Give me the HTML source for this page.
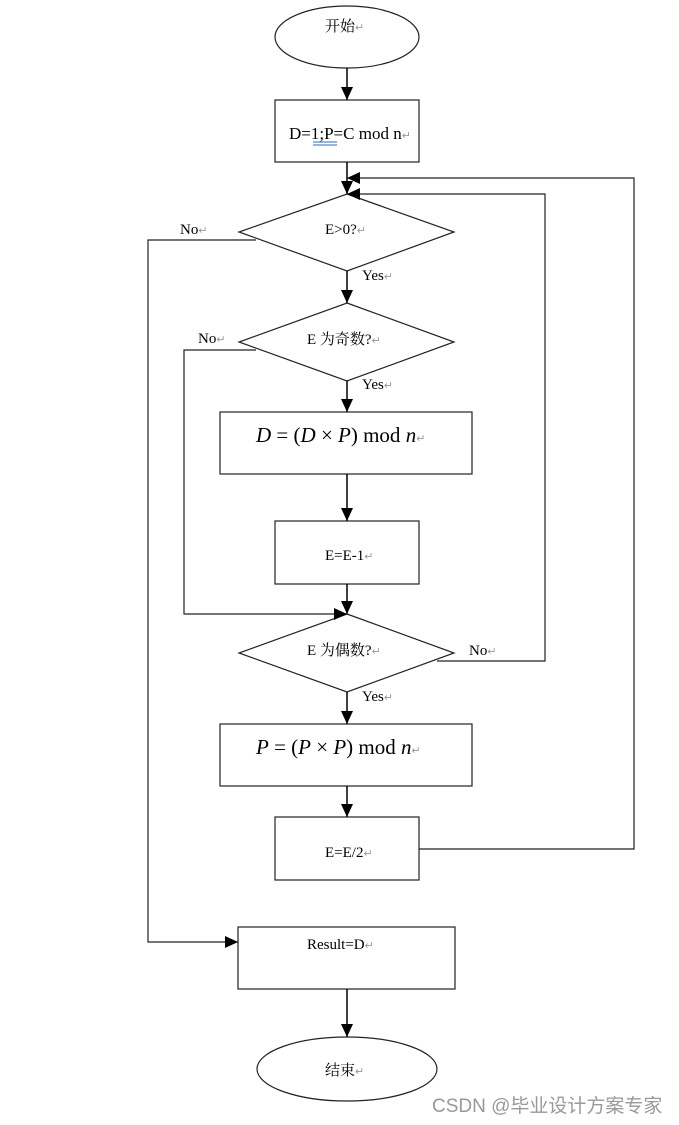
<!DOCTYPE html>
<html><head><meta charset="utf-8"><style>
body{margin:0;background:#fff;width:679px;height:1125px;overflow:hidden}
svg{display:block}
text{font-family:"Liberation Serif","Noto Serif CJK SC","Noto Sans CJK SC",serif;font-size:15px;fill:#000}
.r{fill:#999;font-size:11px}
</style></head><body>
<svg width="679" height="1125" viewBox="0 0 679 1125">
<defs>
<marker id="b" markerWidth="14" markerHeight="14" refX="13" refY="6" orient="auto" markerUnits="userSpaceOnUse"><path d="M0,0 L13,6 L0,12 z" fill="#000"/></marker></defs>
<g fill="none" stroke="#222" stroke-width="1.2">
<ellipse cx="347" cy="37" rx="72" ry="31"/>
<rect x="275" y="100" width="144" height="62"/>
<polygon points="347,194 454,232 347,271 239,232"/>
<polygon points="347,303 454,342 347,381 239,342"/>
<rect x="220" y="412" width="252" height="62"/>
<rect x="275" y="521" width="144" height="63"/>
<polygon points="347,614 454,653 347,692 239,653"/>
<rect x="220" y="724" width="252" height="62"/>
<rect x="275" y="817" width="144" height="63"/>
<rect x="238" y="927" width="217" height="62"/>
<ellipse cx="347" cy="1069" rx="90" ry="32"/>
</g>
<g fill="none" stroke="#000" stroke-width="1.5">
<line x1="347" y1="68" x2="347" y2="100" marker-end="url(#b)"/>
<line x1="347" y1="162" x2="347" y2="194" marker-end="url(#b)"/>
<line x1="347" y1="271" x2="347" y2="303" marker-end="url(#b)"/>
<line x1="347" y1="381" x2="347" y2="412" marker-end="url(#b)"/>
<line x1="347" y1="474" x2="347" y2="521" marker-end="url(#b)"/>
<line x1="347" y1="584" x2="347" y2="614" marker-end="url(#b)"/>
<line x1="347" y1="692" x2="347" y2="724" marker-end="url(#b)"/>
<line x1="347" y1="786" x2="347" y2="817" marker-end="url(#b)"/>
<line x1="347" y1="989" x2="347" y2="1037" marker-end="url(#b)"/>
</g>
<g fill="none" stroke="#222" stroke-width="1.2">
<polyline points="256,240 148,240 148,942 238,942" marker-end="url(#b)"/>
<polyline points="256,350 184,350 184,614 347,614" marker-end="url(#b)"/>
<polyline points="437,661 545,661 545,194 347,194" marker-end="url(#b)"/>
<polyline points="419,849 634,849 634,178 347,178" marker-end="url(#b)"/>
</g>
<text x="325" y="31">开始<tspan class="r">↵</tspan></text>
<text x="289" y="139" style="font-size:17px">D=1;P=C mod n<tspan class="r">↵</tspan></text>
<line x1="313" y1="142" x2="337" y2="142" stroke="#36c" stroke-width="1"/>
<line x1="313" y1="145" x2="337" y2="145" stroke="#36c" stroke-width="1"/>
<text x="325" y="234">E&gt;0?<tspan class="r">↵</tspan></text>
<text x="180" y="234">No<tspan class="r">↵</tspan></text>
<text x="362" y="280">Yes<tspan class="r">↵</tspan></text>
<text x="307" y="344">E 为奇数?<tspan class="r">↵</tspan></text>
<text x="198" y="343">No<tspan class="r">↵</tspan></text>
<text x="362" y="389">Yes<tspan class="r">↵</tspan></text>
<text x="256" y="442" style="font-size:21px"><tspan font-style="italic">D</tspan> = (<tspan font-style="italic">D</tspan> × <tspan font-style="italic">P</tspan>) mod <tspan font-style="italic">n</tspan><tspan class="r">↵</tspan></text>
<text x="325" y="560">E=E-1<tspan class="r">↵</tspan></text>
<text x="307" y="655">E 为偶数?<tspan class="r">↵</tspan></text>
<text x="469" y="655">No<tspan class="r">↵</tspan></text>
<text x="362" y="701">Yes<tspan class="r">↵</tspan></text>
<text x="256" y="754" style="font-size:21px"><tspan font-style="italic">P</tspan> = (<tspan font-style="italic">P</tspan> × <tspan font-style="italic">P</tspan>) mod <tspan font-style="italic">n</tspan><tspan class="r">↵</tspan></text>
<text x="325" y="857">E=E/2<tspan class="r">↵</tspan></text>
<text x="307" y="949">Result=D<tspan class="r">↵</tspan></text>
<text x="325" y="1075">结束<tspan class="r">↵</tspan></text>
<text x="432" y="1112" style="font-family:'Liberation Sans','Noto Sans CJK SC',sans-serif;font-size:19px;fill:#999">CSDN @毕业设计方案专家</text>
</svg>
</body></html>
